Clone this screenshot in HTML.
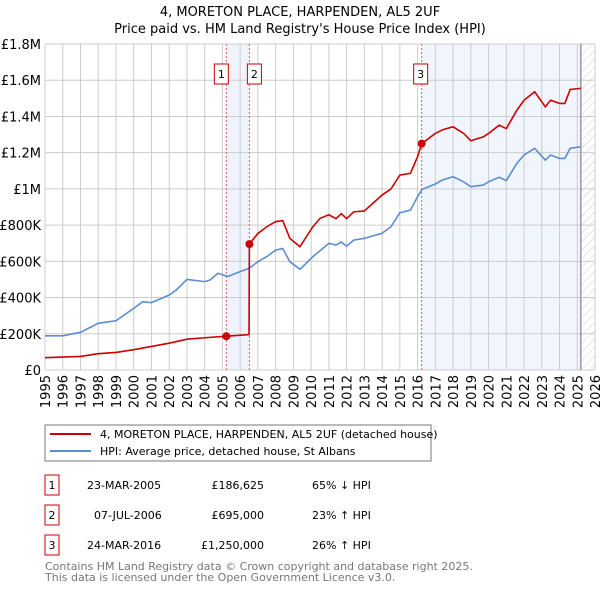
<!DOCTYPE html>
<html><head><meta charset="utf-8"><style>
body{margin:0;background:#fff;font-family:"DejaVu Sans","Liberation Sans",sans-serif;}
svg{display:block}
</style></head><body>
<svg id="c" width="600" height="590" xmlns="http://www.w3.org/2000/svg" font-family="DejaVu Sans, Liberation Sans, sans-serif">
<defs><pattern id="hatch" width="6" height="6" patternUnits="userSpaceOnUse" patternTransform="rotate(45)"><line x1="0" y1="0" x2="0" y2="6" stroke="#ccc" stroke-width="1"/></pattern></defs>
<text x="300" y="16" text-anchor="middle" font-size="13" fill="#000">4, MORETON PLACE, HARPENDEN, AL5 2UF</text>
<text x="300" y="33" text-anchor="middle" font-size="13" fill="#000">Price paid vs. HM Land Registry's House Price Index (HPI)</text>
<g id="bg"></g><g id="grid"></g><g id="series"></g><g id="axes"></g>
<rect x="45" y="425" width="386" height="36" fill="#fff" stroke="#777"/>
<line x1="50" y1="434" x2="91" y2="434" stroke="#cc0000" stroke-width="2"/>
<text x="100" y="438" font-size="11">4, MORETON PLACE, HARPENDEN, AL5 2UF (detached house)</text>
<line x1="50" y1="451" x2="91" y2="451" stroke="#5b8fd0" stroke-width="2"/>
<text x="100" y="455" font-size="11">HPI: Average price, detached house, St Albans</text>
<g font-size="11" fill="#000">
<rect x="45" y="475" width="14" height="20" fill="none" stroke="#cc0000"/><text x="52" y="489" text-anchor="middle">1</text>
<text x="87" y="489">23-MAR-2005</text><text x="264" y="489" text-anchor="end">£186,625</text><text x="312" y="489">65% ↓ HPI</text>
<rect x="45" y="505" width="14" height="20" fill="none" stroke="#cc0000"/><text x="52" y="519" text-anchor="middle">2</text>
<text x="94" y="519">07-JUL-2006</text><text x="264" y="519" text-anchor="end">£695,000</text><text x="312" y="519">23% ↑ HPI</text>
<rect x="45" y="535" width="14" height="20" fill="none" stroke="#cc0000"/><text x="52" y="549" text-anchor="middle">3</text>
<text x="87" y="549">24-MAR-2016</text><text x="264" y="549" text-anchor="end">£1,250,000</text><text x="312" y="549">26% ↑ HPI</text>
</g>
<text x="45" y="570" font-size="11" fill="#777">Contains HM Land Registry data © Crown copyright and database right 2025.</text>
<text x="45" y="581" font-size="11" fill="#777">This data is licensed under the Open Government Licence v3.0.</text>
</svg>
<script>
const hpiYears=[1995,1996,1997,1998,1999,2000,2000.5,2001,2002,2002.4,2003,2004,2004.3,2004.75,2005.3,2006,2006.5,2007,2007.5,2008,2008.4,2008.8,2009.37,2010.1,2011,2011.4,2011.7,2012,2012.4,2013,2014,2014.5,2015,2015.6,2016,2016.25,2017,2017.4,2018,2018.6,2019,2019.7,2020,2020.6,2021,2021.6,2022,2022.6,2023.2,2023.5,2024,2024.3,2024.6,2025.2];
const hpiValues=[189,189,208,258,272,340,377,372,414,442,500,488,497,534,516,543,561,598,626,662,671,598,556,626,699,690,706,684,717,727,755,791,868,883,957,997,1027,1049,1067,1039,1012,1021,1039,1064,1046,1141,1187,1224,1159,1187,1168,1168,1224,1233];
const priceYears=[1995,1997,1998,1999,2000,2001,2002,2003,2004,2005.22,2006.5,2006.52,2007,2007.5,2008,2008.4,2008.8,2009.37,2010.1,2010.5,2011,2011.4,2011.7,2012,2012.4,2013,2014,2014.5,2015,2015.6,2016,2016.23,2017,2017.4,2018,2018.6,2019,2019.7,2020,2020.6,2021,2021.6,2022,2022.6,2023.2,2023.5,2024,2024.3,2024.6,2025.2];
const priceValues=[68,75,90,97,112,130,148,170,178,186.6,195,695,754,791,819,825,727,681,791,837,857,836,863,836,873,878,966,1000,1076,1086,1178,1250,1306,1326,1343,1306,1266,1287,1306,1352,1333,1435,1490,1536,1453,1490,1472,1472,1549,1555];
const saleYears=[2005.22,2006.52,2016.23];
const saleValues=[186.625,695,1250];
const saleLabels=["1","2","3"];
const yTicks=[0,200,400,600,800,1000,1200,1400,1600,1800];
const yTickLabels=["£0","£200K","£400K","£600K","£800K","£1M","£1.2M","£1.4M","£1.6M","£1.8M"];
const xTicks=[1995,1996,1997,1998,1999,2000,2001,2002,2003,2004,2005,2006,2007,2008,2009,2010,2011,2012,2013,2014,2015,2016,2017,2018,2019,2020,2021,2022,2023,2024,2025,2026];
const L=45,R=595,T=44,B=370,NS="http://www.w3.org/2000/svg";
const xs=y=>L+(y-1995)*(R-L)/31, ys=v=>B-v*(B-T)/1800;
function mk(tag,attrs,parent){const e=document.createElementNS(NS,tag);for(const k in attrs)e.setAttribute(k,attrs[k]);document.getElementById(parent).appendChild(e);return e;}
// backgrounds
let e=mk('rect',{x:xs(saleYears[0]),y:T,width:xs(saleYears[1])-xs(saleYears[0]),height:B-T,fill:'#eef3fc'},'bg');


e=mk('rect',{x:xs(saleYears[2]),y:T,width:xs(2025.2)-xs(saleYears[2]),height:B-T,fill:'#f1f5fd'},'bg');


e=mk('rect',{x:xs(2025.2),y:T,width:R-xs(2025.2),height:B-T,fill:'url(#hatch)'},'bg');


// grid
yTicks.forEach((v,i)=>{
 let g=mk('line',{x1:L,x2:R,y1:ys(v),y2:ys(v),stroke:'#ccc'},'grid');
 
 
 let t=mk('text',{x:L-4,y:ys(v)+5,'text-anchor':'end','font-size':'13',fill:'#000'},'axes');
 
 
 t.textContent=yTickLabels[i];
});
xTicks.forEach(y=>{
 let g=mk('line',{x1:xs(y),x2:xs(y),y1:T,y2:B,stroke:'#ccc'},'grid');
 
 
 let t=mk('text',{x:0,y:0,'text-anchor':'end','font-size':'13',fill:'#000',transform:`translate(${xs(y)+5},${B+5}) rotate(-90)`},'axes');
 
 
 t.textContent=y;
});
e=mk('line',{x1:xs(2025.2),x2:xs(2025.2),y1:T,y2:B,stroke:'#999','stroke-width':1.5},'grid');


// sale vlines & labels
saleYears.forEach((y,i)=>{
 let l=mk('line',{x1:xs(y),x2:xs(y),y1:T,y2:B,stroke:'#e06060','stroke-dasharray':'2,2'},'series');
 
 
 const bx=xs(y)+(i==0?-12:i==1?-2:-8);
 let r=mk('rect',{x:bx,y:64,width:14,height:20,fill:'#fff',stroke:'#cc0000'},'series');
 
 
 let t=mk('text',{x:bx+7,y:78,'text-anchor':'middle','font-size':'11'},'series');
 
 
 t.textContent=saleLabels[i];
});
// lines
e=mk('polyline',{points:hpiYears.map((y,i)=>xs(y)+','+ys(hpiValues[i])).join(' '),fill:'none',stroke:'#5b8fd0','stroke-width':1.6},'series');


e=mk('polyline',{points:priceYears.map((y,i)=>xs(y)+','+ys(priceValues[i])).join(' '),fill:'none',stroke:'#cc0000','stroke-width':1.6},'series');


saleYears.forEach((y,i)=>{
 let c=mk('circle',{cx:xs(y),cy:ys(saleValues[i]),r:4,fill:'#cc0000'},'series');
 
 
});
</script>
</body></html>
